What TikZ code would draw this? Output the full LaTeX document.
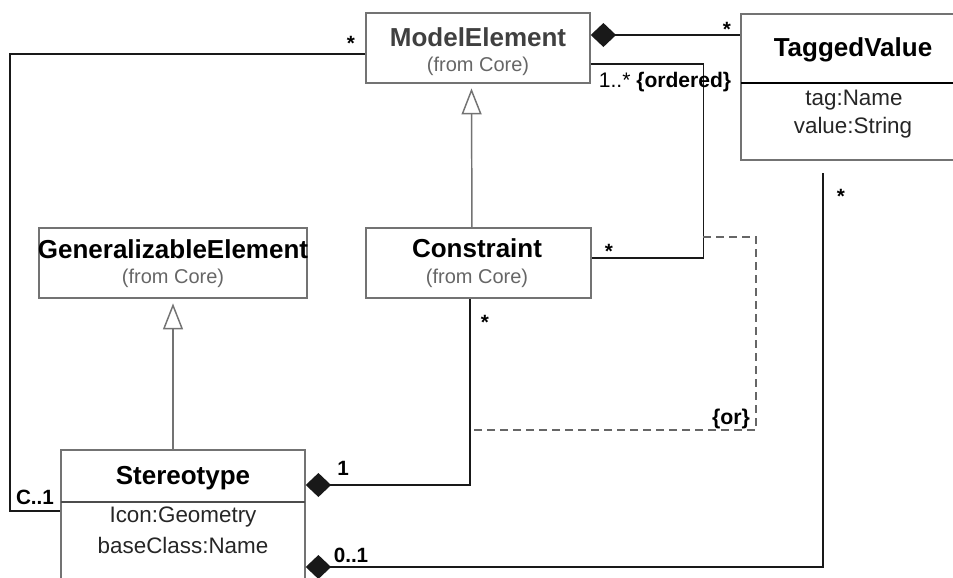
\documentclass[tikz,border=0pt]{standalone}
\usepackage{fontspec}
\setmainfont{Liberation Sans}
\usetikzlibrary{arrows.meta}

\tikzset{every picture/.style={line width=0.75pt}}
\tikzset{
  classbox/.style={draw=black!55, line width=1.1pt, rectangle, inner sep=0pt},
  nameText/.style={inner sep=0.75pt, font=\fontsize{19.5}{23}\selectfont\bfseries},
  fromText/.style={inner sep=0.75pt, text=black!60, font=\fontsize{15}{18}\selectfont},
  attrText/.style={inner sep=0.75pt, text=black!85, font=\fontsize{16.8}{20}\selectfont},
  mult/.style={inner sep=0.75pt, font=\fontsize{15.5}{18}\selectfont\bfseries},
  assoc/.style={draw=black!90, line width=1.1pt},
  comp/.style={assoc, {Diamond[length=19pt, width=18pt]}-},
  gen/.style={draw=black!55, line width=1.1pt, -{Triangle[open, fill=white, length=19.5pt, width=15pt]}, shorten >=3.5pt},
  orline/.style={draw=black!60, line width=1pt, dash pattern={on 6pt off 3.75pt}}
}

\begin{document}
\begin{tikzpicture}[x=0.75pt,y=0.75pt,yscale=-1,xscale=1]
\useasboundingbox (0,0) rectangle (953,578);

% class boxes
\node[classbox, minimum width=168pt, minimum height=52.5pt] (modelEl) at (478,48) {};
\node[classbox, minimum width=168pt, minimum height=109.5pt] (tagged) at (853,87) {};
\node[classbox, minimum width=201pt, minimum height=52.5pt] (genEl) at (173,263) {};
\node[classbox, minimum width=168.75pt, minimum height=52.5pt] (constr) at (478.5,263) {};
\node[classbox, minimum width=183pt, minimum height=120pt] (stereo) at (183,530) {};

% compartment dividers
\draw[black, line width=1.1pt] (741,83) -- (953,83);
\draw[black!70, line width=2.2pt] (61,502) -- (305,502);

% class names and attributes
\node[nameText, text=black!75] (modelElName) at (478,37) {ModelElement};
\node[fromText] (modelElFrom) at (478,66) {(from Core)};
\node[nameText] (taggedName) at (853,50) {TaggedValue};
\node[attrText] (taggedTag) at (854,100) {tag:Name};
\node[attrText] (taggedValue) at (853,128) {value:String};
\node[nameText] (genElName) at (173,249) {GeneralizableElement};
\node[fromText] (genElFrom) at (173,278) {(from Core)};
\node[nameText] (constrName) at (477,248) {Constraint};
\node[fromText] (constrFrom) at (477,278) {(from Core)};
\node[nameText] (stereoName) at (183,478) {Stereotype};
\node[attrText] (stereoIcon) at (183,517) {Icon:Geometry};
\node[attrText] (stereoBase) at (183,545) {baseClass:Name};

% generalizations
\draw[gen] ([xshift=-4.9pt]constr.north) -- ([xshift=-4.9pt]modelEl.south);
\draw[gen] (stereo.north -| genEl.south) -- (genEl.south);

% associations (y axis is flipped, so a positive yshift goes down)
\draw[assoc, line width=1.5pt] ([yshift=4.5pt]modelEl.west) -- ++(-355,0) |- ([yshift=-14.25pt]stereo.west);
\draw[comp] ([yshift=-9.75pt]modelEl.east) -- ([yshift=-9.75pt]modelEl.east -| tagged.west);
\draw[assoc] ([yshift=12pt]modelEl.east) -- ++(113,0) |- ([yshift=-3.75pt]constr.east);
\draw[comp] ([yshift=-33.75pt]stereo.east) -| ([xshift=-6.4pt]constr.south);
\draw[comp, shorten >=9pt] ([yshift=27.75pt]stereo.east) -| ([xshift=-22.5pt]tagged.south);

% {or} constraint between the two associations
\coordinate (orA) at (703,237);
\coordinate (orB) at (470,430);
\draw[orline] (orA) -- ++(53,0) |- (orB);

% multiplicities
\node[mult] (mStarLeft) at (351,43) {*};
\node[mult] (mC1) at (35,497) {C..1};
\node[mult] (mStarTag) at (727,29) {*};
\node[mult, font=\fontsize{15.8}{18}\selectfont] (mOrdered) at (665,82) {\mdseries 1..* \bfseries\{ordered\}};
\node[mult] (mStarConstr) at (609,251) {*};
\node[mult] (mStarBottom) at (485,322) {*};
\node[mult] (mStarTagBottom) at (841,196) {*};
\node[mult] (mOne) at (343,468) {1};
\node[mult] (mZeroOne) at (351,555) {0..1};
\node[mult, font=\fontsize{16}{18}\selectfont\bfseries] (mOr) at (731,419) {\{or\}};
\end{tikzpicture}
\end{document}
